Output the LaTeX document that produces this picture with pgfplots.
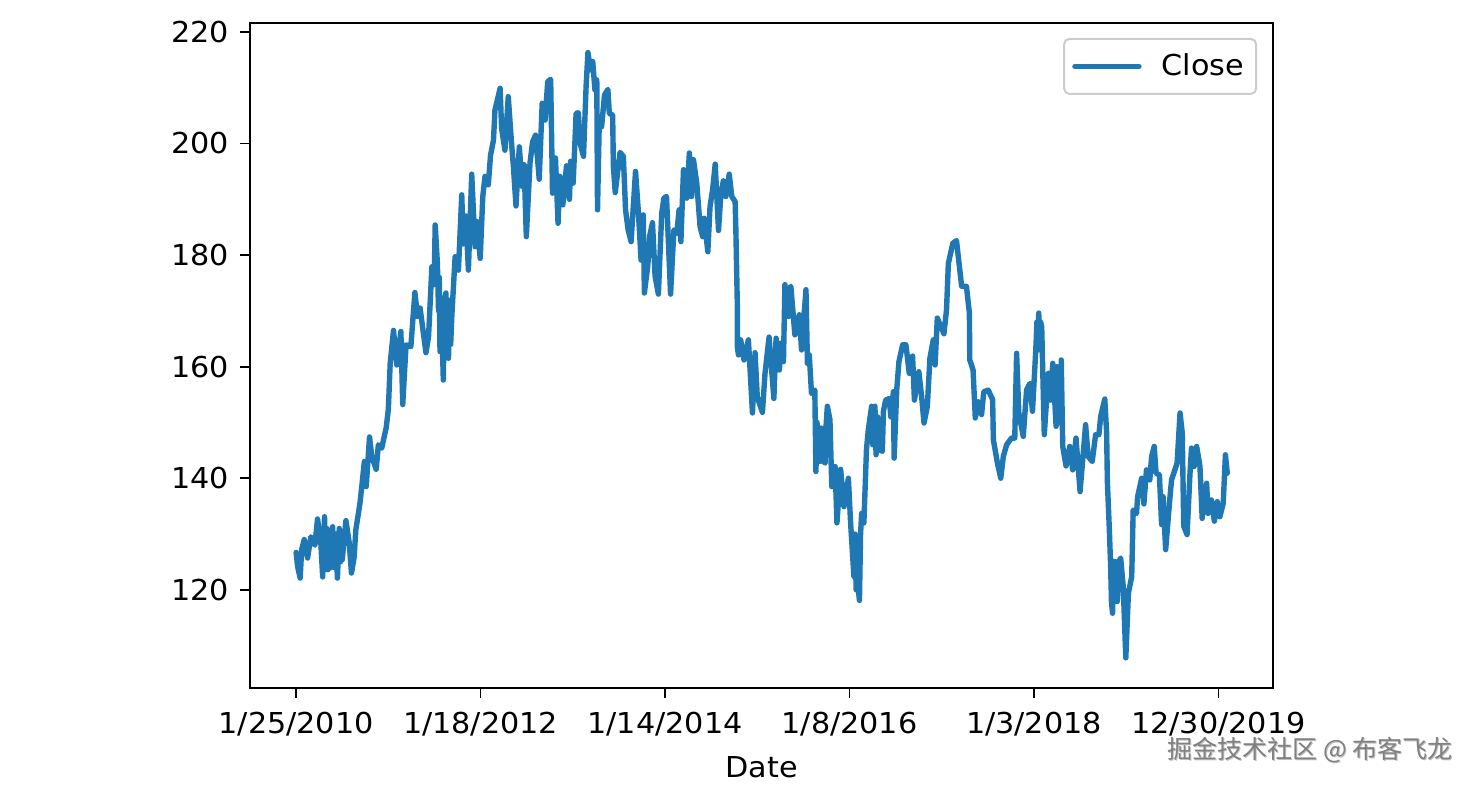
\documentclass[border=0pt]{standalone}
\usepackage{fontspec}
\usepackage{pgfplots}
\pgfplotsset{compat=1.18}
\setmainfont[FakeStretch=1.05]{DejaVu Sans}
\newfontfamily\cjk{Noto Sans CJK SC}
\definecolor{mplblue}{HTML}{1F77B4}
\begin{document}
\begin{tikzpicture}
\useasboundingbox (-125pt,-49pt) rectangle (613pt,344pt);
\begin{axis}[
  width=511.5pt, height=332.5pt, scale only axis,
  xmin=-125, xmax=2648, ymin=102.4, ymax=221.6,
  axis line style={black, line width=1pt},
  tick style={black, line width=0.9pt},
  major tick length=5pt,
  tick align=outside, xtick pos=bottom, ytick pos=left,
  xtick={0,500,1000,1500,2000,2500},
  xticklabels={1/25/2010,1/18/2012,1/14/2014,1/8/2016,1/3/2018,12/30/2019},
  ytick={120,140,160,180,200,220},
  /pgf/number format/assume math mode=true,
  /pgf/number format/1000 sep={},
  tick label style={font=\fontsize{14.4pt}{17pt}\selectfont},
  xticklabel style={yshift=-3.5pt},
  yticklabel style={xshift=-2pt},
  xlabel={Date},
  xlabel style={font=\fontsize{14.4pt}{17pt}\selectfont, yshift=-3.5pt},
  legend style={at={(1,1)}, anchor=north east, xshift=-8pt, yshift=-7.5pt,
    rounded corners=2.5pt, draw=black!20, line width=1pt, fill=white,
    font=\fontsize{14.4pt}{17pt}\selectfont, inner xsep=4pt, inner ysep=5.5pt},
  legend image code/.code={\draw[#1] (0pt,0pt) -- (32pt,0pt); \path (40pt,0pt);},
]
\addplot[mplblue, line width=2.7pt, line join=round, line cap=round] coordinates {
(0,126.7)(4,124.2)(11,122.1)(15,127.2)(22,129.0)(31,125.7)(40,129.5)(51,128.0)(58,132.7)(67,128.4)
(72,122.3)(77,133.1)(80,124.0)(83,131.0)(86,123.6)(89,129.0)(92,123.9)(95,130.0)(99,131.3)(103,124.0)(107,130.0)(112,122.1)(117,131.0)(120,125.0)(122,130.0)(125,125.4)(135,132.4)(144,128.4)
(150,123.0)(157,125.7)(162,130.8)(173,135.5)(178,138.5)(185,143.0)(190,138.5)(199,147.4)(205,143.9)(217,141.6)
(223,146.0)(232,145.4)(244,149.0)(250,152.3)(255,160.6)(264,166.5)(273,160.3)(284,166.3)(289,153.2)(298,163.9)
(311,163.6)(322,173.3)(329,169.0)(336,170.5)(352,162.5)(359,165.4)(368,177.9)(374,174.7)(377,185.4)(383,178.5)(386,170.0)(388,176.0)
(390,162.7)(393,172.0)(396,165.0)(399,157.6)(402,172.0)(406,173.2)(409,162.0)(411,172.0)(413,161.5)(416,170.0)(419,164.0)(422,169.0)(431,179.7)(440,177.3)(449,190.8)(453,182.0)(460,187.0)
(467,177.3)(476,194.5)(485,181.5)(490,186.0)(499,179.4)(506,190.5)(512,194.1)(521,192.6)(527,197.9)(535,200.6)
(539,206.0)(553,209.9)(557,202.7)(566,198.8)(575,208.4)(584,200.0)(589,195.9)(596,188.8)(605,199.4)(613,192.3)
(618,196.2)(624,183.3)(634,196.5)(641,200.3)(649,201.5)(659,193.6)(667,207.2)(675,204.2)(682,211.1)(690,211.5)
(695,191.1)(703,197.4)(710,185.7)(715,194.1)(723,189.0)(733,196.0)(741,190.0)(744,196.8)(751,192.9)(759,205.4)
(765,205.5)(770,200.0)(779,197.7)(786,210.2)(791,216.3)(798,213.2)(804,214.7)(810,209.6)(815,211.4)(817,188.1)
(822,204.8)(828,203.0)(836,208.7)(845,209.7)(849,205.4)(858,205.1)(860,195.9)(865,191.2)(878,198.4)(887,197.7)
(893,188.1)(900,184.5)(908,182.4)(920,195.0)(928,187.5)(935,179.1)(941,187.2)(944,173.2)(953,177.9)(959,183.6)
(966,185.8)(973,176.2)(982,173.0)(991,187.5)(997,190.2)(1004,190.5)(1015,173.0)(1024,184.5)(1032,183.9)(1038,188.1)
(1043,182.4)(1050,195.3)(1059,190.2)(1066,198.3)(1072,190.5)(1077,197.1)(1086,192.9)(1095,185.1)(1102,183.3)(1106,186.6)
(1116,180.6)(1122,188.7)(1129,191.7)(1136,196.3)(1145,184.4)(1151,190.5)(1158,193.3)(1165,190.5)(1174,194.5)(1181,190.5)
(1190,189.6)(1192,184.5)(1196,170.8)(1196,163.6)(1199,162.1)(1205,164.8)(1214,161.2)(1226,164.8)(1237,151.7)(1244,162.5)
(1250,154.6)(1264,151.8)(1271,158.8)(1282,165.3)(1289,159.4)(1295,154.3)(1301,165.1)(1310,159.4)(1314,164.2)(1321,160.9)
(1325,174.7)(1329,169.0)(1332,174.0)(1335,169.0)(1338,174.0)(1341,174.4)(1352,165.7)(1364,169.3)(1370,163.0)(1382,173.8)(1386,160.6)(1391,162.1)(1397,155.2)(1406,155.8)
(1409,141.2)(1412,150.0)(1415,144.0)(1417,148.7)(1420,143.0)(1423,149.0)(1425,143.9)(1427,148.7)(1430,143.0)(1434,142.7)(1437,150.0)(1440,152.9)(1447,150.5)(1452,138.5)(1461,142.1)(1466,132.0)
(1476,141.6)(1485,134.9)(1497,140.0)(1503,132.0)(1512,122.4)(1515,130.0)(1518,120.0)(1521,129.0)(1524,120.0)(1527,118.1)(1530,130.0)(1533,133.7)(1539,132.0)(1546,145.1)
(1551,148.7)(1560,152.9)(1563,146.0)(1566,152.0)(1569,152.9)(1572,144.2)(1576,151.0)(1579,145.0)(1583,150.5)(1586,145.0)(1589,144.8)(1592,152.0)(1598,154.0)(1608,154.3)(1612,151.0)(1619,155.5)
(1621,143.6)(1628,155.8)(1634,160.9)(1644,163.9)(1653,163.9)(1662,158.8)(1671,161.9)(1676,154.0)(1688,159.1)(1696,154.3)
(1702,149.9)(1711,152.9)(1718,161.5)(1727,164.8)(1732,160.3)(1738,168.7)(1756,165.9)(1763,170.2)(1768,178.5)(1780,182.1)
(1790,182.6)(1804,174.4)(1817,174.4)(1825,169.6)(1826,161.2)(1835,159.4)(1841,150.8)(1849,153.7)(1858,151.4)(1864,155.5)
(1876,155.8)(1888,154.1)(1890,146.9)(1901,142.7)(1910,140.0)(1917,143.9)(1926,146.0)(1939,147.2)(1948,147.2)(1953,162.4)
(1959,151.7)(1971,147.5)(1980,155.8)(1989,157.0)(1996,152.0)(2005,163.0)(2008,168.0)(2010,163.0)(2013,169.6)(2016,163.0)(2018,168.0)(2021,167.2)(2028,147.8)(2039,158.8)
(2045,154.0)(2051,160.6)(2060,149.3)(2063,160.0)(2066,149.9)(2069,160.0)(2072,150.0)(2074,161.2)(2078,145.7)(2087,142.2)(2097,145.7)(2105,141.5)(2114,147.2)
(2125,137.6)(2140,149.6)(2147,143.9)(2158,143.0)(2167,147.8)(2176,147.8)(2181,151.1)(2192,154.2)(2197,148.1)(2199,139.4)
(2204,131.4)(2208,124.0)(2210,118.0)(2213,115.8)(2216,125.0)(2219,125.1)(2222,118.0)(2226,117.9)(2230,125.0)(2235,125.7)(2242,120.6)(2249,107.8)(2256,119.4)(2265,122.4)(2269,134.3)
(2278,133.7)(2281,136.7)(2292,140.0)(2298,135.4)(2305,141.5)(2314,139.7)(2319,143.9)(2326,145.7)(2331,140.9)(2340,140.6)
(2346,131.7)(2350,136.7)(2357,127.2)(2368,136.1)(2373,139.7)(2382,141.5)(2388,142.7)(2396,151.7)(2402,148.1)(2406,131.4)
(2415,129.9)(2423,140.9)(2427,145.4)(2434,142.1)(2441,145.7)(2450,142.1)(2456,132.8)(2468,139.1)(2472,133.7)(2481,136.1)
(2489,132.3)(2497,135.8)(2504,133.1)(2513,135.5)(2519,144.2)(2524,140.9)
};
\addlegendentry{Close}
\end{axis}
\node[text=black!25, font=\cjk\fontsize{12.55pt}{14pt}\selectfont, inner sep=0pt] at (530.5pt,-31.4pt) {掘金技术社区 @ 布客飞龙};
\node[text=black!50, font=\cjk\fontsize{12.55pt}{14pt}\selectfont, inner sep=0pt] at (530pt,-31pt) {掘金技术社区 @ 布客飞龙};
\end{tikzpicture}
\end{document}
